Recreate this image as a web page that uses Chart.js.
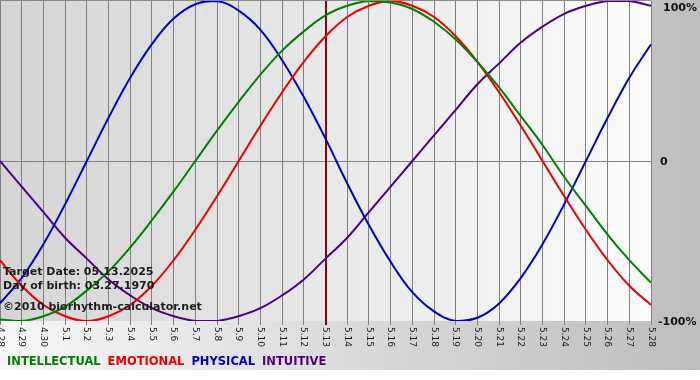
<!DOCTYPE html>
<html>
<head>
<meta charset="utf-8">
<script src="https://cdn.jsdelivr.net/npm/chart.js@4"></script>
<style>
  html, body { margin: 0; padding: 0; background: #fff; }
  #wrap { width: 700px; height: 380px; }
</style>
</head>
<body>
<div id="wrap"><canvas id="bio" width="700" height="380"></canvas></div>
<script>
// дни по оси X
const days = ['4.28', '4.29', '4.30', '5.1', '5.2', '5.3', '5.4', '5.5', '5.6', '5.7', '5.8',
    '5.9', '5.10', '5.11', '5.12', '5.13', '5.14', '5.15', '5.16', '5.17', '5.18', '5.19',
    '5.20', '5.21', '5.22', '5.23', '5.24', '5.25', '5.26', '5.27', '5.28'];

// значения кривых (-1 .. 1)
const intellectual = [-0.99, -1.00, -0.97, -0.91, -0.81, -0.69, -0.54, -0.37, -0.19, 0.00, 0.19,
    0.37, 0.54, 0.69, 0.81, 0.91, 0.97, 1.00, 0.99, 0.95, 0.87, 0.76, 0.62, 0.46, 0.28, 0.10,
    -0.10, -0.28, -0.46, -0.62, -0.76];
const emotional = [-0.62, -0.78, -0.90, -0.97, -1.00, -0.97, -0.90, -0.78, -0.62, -0.43, -0.22,
    0.00, 0.22, 0.43, 0.62, 0.78, 0.90, 0.97, 1.00, 0.97, 0.90, 0.78, 0.62, 0.43, 0.22, 0.00,
    -0.22, -0.43, -0.62, -0.78, -0.90];
const physical = [-0.89, -0.73, -0.52, -0.27, 0.00, 0.27, 0.52, 0.73, 0.89, 0.98, 1.00,
    0.94, 0.82, 0.63, 0.40, 0.14, -0.14, -0.40, -0.63, -0.82, -0.94, -1.00, -0.98, -0.89,
    -0.73, -0.52, -0.27, 0.00, 0.27, 0.52, 0.73];
const intuitive = [0.00, -0.16, -0.32, -0.48, -0.61, -0.74, -0.84, -0.92, -0.97, -1.00, -1.00,
    -0.97, -0.92, -0.84, -0.74, -0.61, -0.48, -0.32, -0.16, 0.00, 0.16, 0.32, 0.48, 0.61,
    0.74, 0.84, 0.92, 0.97, 1.00, 1.00, 0.97];

const yTicks = [1, 0, -1];
const yTickLabels = ['100%', '0', '-100%'];
const targetDay = '5.13';
const infoLines = ['Target Date: 05.13.2025', 'Day of birth: 03.27.1970', '\u00a92010 biorhythm-calculator.net'];

// фон, линия даты, подписи осей, легенда
const decor = {
    id: 'decor',
    beforeDraw(chart) {
        const ctx = chart.ctx;
        const a = chart.chartArea;
        ctx.save();
        ctx.fillStyle = '#ffffff';
        ctx.fillRect(0, 0, chart.width, chart.height);
        let g = ctx.createLinearGradient(0, 0, chart.width, 0);
        g.addColorStop(0, '#f7f7f7');
        g.addColorStop(1, '#bdbdbd');
        ctx.fillStyle = g;
        ctx.fillRect(0, 0, chart.width, 370);
        g = ctx.createLinearGradient(a.left, 0, a.right, 0);
        g.addColorStop(0, '#d5d5d5');
        g.addColorStop(1, '#fbfbfb');
        ctx.fillStyle = g;
        ctx.fillRect(a.left, a.top - 1, a.right - a.left, a.bottom - a.top + 1);
        ctx.fillStyle = '#8a8a8a';
        ctx.fillRect(a.left, 0, a.right - a.left, 1);
        ctx.restore();
    },
    beforeDatasetsDraw(chart) {
        const ctx = chart.ctx;
        const a = chart.chartArea;
        const x = chart.scales.x.getPixelForValue(days.indexOf(targetDay));
        ctx.save();
        ctx.strokeStyle = '#7a0c0c';
        ctx.lineWidth = 2;
        ctx.beginPath();
        ctx.moveTo(x + 0.5, a.top);
        ctx.lineTo(x + 0.5, a.bottom + 4);
        ctx.stroke();
        ctx.restore();
    },
    afterDatasetsDraw(chart) {
        const ctx = chart.ctx;
        const a = chart.chartArea;
        const xs = chart.scales.x;
        const ys = chart.scales.y;
        ctx.save();

        // подписи дней, повернуты по часовой
        ctx.fillStyle = '#1a1a1a';
        ctx.font = '9px "DejaVu Sans"';
        ctx.textAlign = 'left';
        ctx.textBaseline = 'middle';
        days.forEach((d, i) => {
            ctx.save();
            ctx.translate(xs.getPixelForValue(i), a.bottom + 6);
            ctx.rotate(Math.PI / 2);
            ctx.fillText(d, 0, 0);
            ctx.restore();
        });

        // проценты справа
        ctx.font = 'bold 11px "DejaVu Sans"';
        ctx.fillStyle = '#111';
        yTicks.forEach((v, i) => {
            let y = ys.getPixelForValue(v);
            if (y < a.top + 6) y = a.top + 6;
            const lbl = yTickLabels[i];
            const x = lbl === '0' ? a.right + 9 : (lbl.startsWith('-') ? a.right + 7 : a.right + 12);
            ctx.fillText(lbl, x, y + 1);
        });

        // инфо слева внизу
        ctx.font = 'bold 11px "DejaVu Sans"';
        ctx.fillStyle = '#1c1c1c';
        ctx.fillText(infoLines[0], 3, 272);
        ctx.fillText(infoLines[1], 3, 286);
        ctx.fillText(infoLines[2], 3, 307);

        // легенда
        ctx.font = 'bold 11.5px "DejaVu Sans"';
        let lx = 7;
        chart.data.datasets.forEach(ds => {
            ctx.fillStyle = ds.borderColor;
            ctx.fillText(ds.label, lx, 362);
            lx += ctx.measureText(ds.label).width + 7;
        });
        ctx.restore();
    }
};

const ctx = document.getElementById('bio').getContext('2d');
new Chart(ctx, {
    type: 'line',
    data: {
        labels: days,
        datasets: [
            { label: 'INTELLECTUAL', data: intellectual, borderColor: '#008000' },
            { label: 'EMOTIONAL', data: emotional, borderColor: '#ee0000' },
            { label: 'PHYSICAL', data: physical, borderColor: '#0000cc' },
            { label: 'INTUITIVE', data: intuitive, borderColor: '#4b0082' }
        ].map(d => Object.assign(d, {
            borderWidth: 2,
            pointRadius: 0,
            tension: 0.4,
            fill: false
        }))
    },
    options: {
        responsive: false,
        animation: false,
        events: [],
        layout: { padding: { top: 1, left: 0, right: 0, bottom: 0 } },
        plugins: {
            legend: { display: false },
            tooltip: { enabled: false }
        },
        scales: {
            x: {
                type: 'category',
                offset: false,
                grid: { color: '#808080', lineWidth: 1, drawTicks: true, tickLength: 4 },
                border: { display: false },
                ticks: { display: false, autoSkip: false },
                afterFit(scale) { scale.height = 59; }
            },
            y: {
                position: 'right',
                min: -1,
                max: 1,
                grid: {
                    color: c => (c.tick && c.tick.value === 0 ? '#808080' : 'rgba(0,0,0,0)'),
                    drawTicks: false
                },
                border: { display: false },
                ticks: { display: false, stepSize: 1 },
                afterFit(scale) { scale.width = 49; }
            }
        }
    },
    plugins: [decor]
});
</script>
</body>
</html>
